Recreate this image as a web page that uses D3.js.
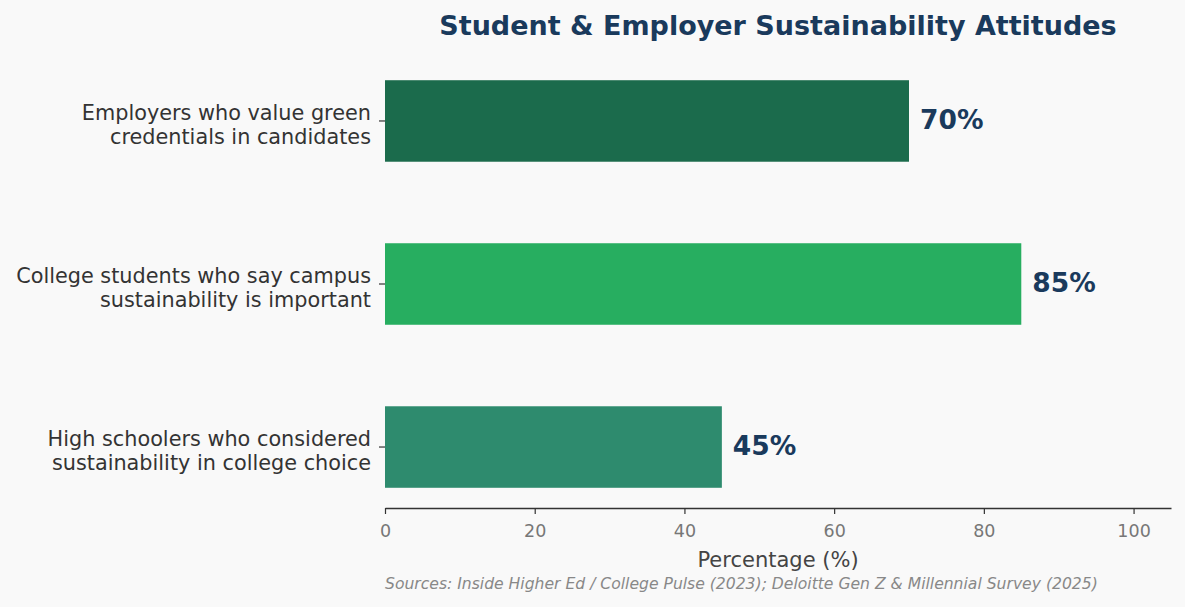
<!DOCTYPE html>
<html>
<head>
<meta charset="utf-8">
<script src="https://cdn.jsdelivr.net/npm/d3@7"></script>
<style>
  body { margin: 0; background: #f9f9f9; }
  svg { display: block; font-family: "DejaVu Sans", sans-serif; }
</style>
</head>
<body>
<svg id="chart" width="1185" height="607"></svg>
<script>
// data, top to bottom
const labels = [
    ["Employers who value green", "credentials in candidates"],
    ["College students who say campus", "sustainability is important"],
    ["High schoolers who considered", "sustainability in college choice"]
];
const values = [70, 85, 45];
const colors = ["#1b6b4c", "#27ae60", "#2e8b6e"];
const ticks = [0, 20, 40, 60, 80, 100];

const svg = d3.select('#chart');
svg.append('rect').attr('width', 1185).attr('height', 607).attr('fill', '#f9f9f9');

const plotLeft = 385, plotRight = 1171, plotTop = 60, plotBottom = 508;

const x = d3.scaleLinear().domain([0, 105]).range([plotLeft, plotRight]);
const y = d3.scaleBand()
    .domain(d3.range(values.length))
    .range([plotTop, plotBottom])
    .paddingInner(0.5)
    .paddingOuter(0.124);

// bars
svg.selectAll('.bar')
    .data(values)
    .enter()
    .append('rect')
    .attr('class', 'bar')
    .attr('x', x(0))
    .attr('y', (d, i) => y(i))
    .attr('width', d => x(d) - x(0))
    .attr('height', y.bandwidth())
    .attr('fill', (d, i) => colors[i]);

// value labels
svg.selectAll('.val')
    .data(values)
    .enter()
    .append('text')
    .attr('class', 'val')
    .attr('x', d => x(d) + 11)
    .attr('y', (d, i) => y(i) + y.bandwidth() / 2)
    .attr('dy', '0.3em')
    .attr('font-size', 26.5)
    .attr('font-weight', 'bold')
    .attr('fill', '#1a3a5c')
    .text(d => d + '%');

// y axis ticks + labels
const yTicks = svg.selectAll('.ytick')
    .data(labels)
    .enter()
    .append('g')
    .attr('class', 'ytick')
    .attr('transform', (d, i) => `translate(${plotLeft},${y(i) + y.bandwidth() / 2})`);

yTicks.append('line')
    .attr('x1', -6).attr('x2', 0)
    .attr('stroke', '#333').attr('stroke-width', 1.2);

yTicks.append('text')
    .attr('text-anchor', 'end')
    .attr('font-size', 20.8)
    .attr('fill', '#333')
    .selectAll('tspan')
    .data(d => d)
    .enter()
    .append('tspan')
    .attr('x', -14)
    .attr('y', (d, i) => i === 0 ? -1 : 23)
    .text(d => d);

// x axis
const xAxis = svg.append('g')
    .attr('transform', `translate(0,${plotBottom})`)
    .call(d3.axisBottom(x).tickValues(ticks).tickSize(6).tickPadding(11).tickSizeOuter(0));
xAxis.select('.domain').attr('stroke', '#333').attr('stroke-width', 1.6);
xAxis.selectAll('.tick line').attr('stroke', '#333').attr('stroke-width', 1.2);
xAxis.selectAll('.tick text')
    .attr('font-family', '"DejaVu Sans", sans-serif')
    .attr('font-size', 17.5)
    .attr('fill', '#777');

svg.append('text')
    .attr('x', (plotLeft + plotRight) / 2)
    .attr('y', 567)
    .attr('text-anchor', 'middle')
    .attr('font-size', 21)
    .attr('fill', '#444')
    .text('Percentage (%)');

// title
svg.append('text')
    .attr('x', (plotLeft + plotRight) / 2)
    .attr('y', 35)
    .attr('text-anchor', 'middle')
    .attr('font-size', 27)
    .attr('font-weight', 'bold')
    .attr('fill', '#1a3a5c')
    .text('Student & Employer Sustainability Attitudes');

// source note
svg.append('text')
    .attr('x', plotLeft)
    .attr('y', 589)
    .attr('font-size', 15.6)
    .attr('font-style', 'italic')
    .attr('fill', '#888')
    .text('Sources: Inside Higher Ed / College Pulse (2023); Deloitte Gen Z & Millennial Survey (2025)');
</script>
</body>
</html>
